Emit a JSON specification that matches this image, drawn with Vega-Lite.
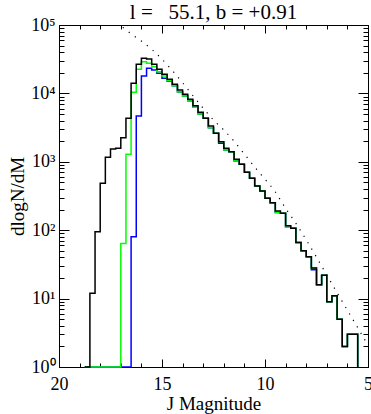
{
  "$schema": "https://vega.github.io/schema/vega-lite/v6.json",
  "width": 309,
  "height": 342,
  "autosize": {"type": "none"},
  "padding": {"left": 59, "top": 25, "right": 3, "bottom": 47},
  "background": "white",
  "title": {"text": "l = \u00a0\u00a055.1, b = +0.91", "font": "Liberation Serif", "fontSize": 21, "fontWeight": "normal", "color": "black", "offset": -7, "anchor": "middle", "frame": "group"},
  "config": {
    "view": {"stroke": "black", "strokeWidth": 1},
    "axis": {"domain": false, "grid": false, "tickColor": "black", "tickWidth": 1, "labelColor": "black", "titleColor": "black", "labelFont": "Liberation Serif", "titleFont": "Liberation Serif", "labelFontSize": 18, "titleFontSize": 19, "titleFontWeight": "normal", "labelOverlap": false, "labelFlush": false}
  },
  "datasets": {
    "hist": [
      {"m": 18.75, "black": 0, "green": 0, "blue": 0},
      {"m": 18.5, "black": 12, "green": 0, "blue": 0},
      {"m": 18.25, "black": 95, "green": 0, "blue": 0},
      {"m": 18.0, "black": 485, "green": 0, "blue": 0},
      {"m": 17.75, "black": 1165, "green": 0, "blue": 0},
      {"m": 17.5, "black": 1540, "green": 0, "blue": 0},
      {"m": 17.25, "black": 1575, "green": 0, "blue": 0},
      {"m": 17.0, "black": 2250, "green": 64, "blue": 0},
      {"m": 16.75, "black": 4330, "green": 1285, "blue": 0},
      {"m": 16.5, "black": 14060, "green": 10380, "blue": 80},
      {"m": 16.25, "black": 26600, "green": 22500, "blue": 4670},
      {"m": 16.0, "black": 32600, "green": 29100, "blue": 17960},
      {"m": 15.75, "black": 31850, "green": 27500, "blue": 23300},
      {"m": 15.5, "black": 26600, "green": 24600, "blue": 22000},
      {"m": 15.25, "black": 22500, "green": 20800, "blue": 19700},
      {"m": 15.0, "black": 19000, "green": 17960, "blue": 16630},
      {"m": 14.75, "black": 16070, "green": 15350, "blue": 15000},
      {"m": 14.5, "black": 13590, "green": 12970, "blue": 12970},
      {"m": 14.25, "black": 11220, "green": 10500, "blue": 10500},
      {"m": 14.0, "black": 9710, "green": 9150, "blue": 9150},
      {"m": 13.75, "black": 8200, "green": 7750, "blue": 7750},
      {"m": 13.5, "black": 6610, "green": 6250, "blue": 6250},
      {"m": 13.25, "black": 5290, "green": 5000, "blue": 5000},
      {"m": 13.0, "black": 4325, "green": 4325, "blue": 4325},
      {"m": 12.75, "black": 3335, "green": 3150, "blue": 3150},
      {"m": 12.5, "black": 2610, "green": 2610, "blue": 2610},
      {"m": 12.25, "black": 1970, "green": 1970, "blue": 1860},
      {"m": 12.0, "black": 1575, "green": 1490, "blue": 1490},
      {"m": 11.75, "black": 1406, "green": 1406, "blue": 1406},
      {"m": 11.5, "black": 1088, "green": 1030, "blue": 1030},
      {"m": 11.25, "black": 919, "green": 919, "blue": 919},
      {"m": 11.0, "black": 702, "green": 702, "blue": 702},
      {"m": 10.75, "black": 574, "green": 574, "blue": 574},
      {"m": 10.5, "black": 443, "green": 443, "blue": 443},
      {"m": 10.25, "black": 374, "green": 374, "blue": 374},
      {"m": 10.0, "black": 293, "green": 293, "blue": 293},
      {"m": 9.75, "black": 252, "green": 252, "blue": 252},
      {"m": 9.5, "black": 191, "green": 181, "blue": 181},
      {"m": 9.25, "black": 177, "green": 177, "blue": 177},
      {"m": 9.0, "black": 116, "green": 110, "blue": 110},
      {"m": 8.75, "black": 107, "green": 107, "blue": 107},
      {"m": 8.5, "black": 66, "green": 66, "blue": 66},
      {"m": 8.25, "black": 50, "green": 50, "blue": 50},
      {"m": 8.0, "black": 41, "green": 41, "blue": 41},
      {"m": 7.75, "black": 28, "green": 28, "blue": 26.5},
      {"m": 7.5, "black": 16, "green": 16, "blue": 16},
      {"m": 7.25, "black": 22, "green": 22, "blue": 22},
      {"m": 7.0, "black": 9, "green": 9, "blue": 9},
      {"m": 6.75, "black": 11, "green": 11, "blue": 11},
      {"m": 6.5, "black": 5, "green": 5, "blue": 5},
      {"m": 6.25, "black": 2, "green": 2, "blue": 2},
      {"m": 6.0, "black": 3, "green": 3, "blue": 3},
      {"m": 5.75, "black": 3, "green": 3, "blue": 3},
      {"m": 5.5, "black": 0, "green": 0, "blue": 0}
    ],
    "model": [
      {"m": 16.9, "v": 92300},
      {"m": 16.5, "v": 74100},
      {"m": 16.0, "v": 58200},
      {"m": 15.5, "v": 44200},
      {"m": 15.0, "v": 31600},
      {"m": 14.5, "v": 21600},
      {"m": 14.0, "v": 14300},
      {"m": 13.5, "v": 9270},
      {"m": 13.0, "v": 6080},
      {"m": 12.5, "v": 4080},
      {"m": 12.0, "v": 2920},
      {"m": 11.5, "v": 1995},
      {"m": 11.0, "v": 1297},
      {"m": 10.5, "v": 839},
      {"m": 10.0, "v": 557},
      {"m": 9.5, "v": 363},
      {"m": 9.0, "v": 209},
      {"m": 8.5, "v": 126},
      {"m": 8.0, "v": 72.4},
      {"m": 7.5, "v": 40.3},
      {"m": 7.0, "v": 22.1},
      {"m": 6.5, "v": 12.2},
      {"m": 6.0, "v": 6.76},
      {"m": 5.5, "v": 3.76},
      {"m": 5.1, "v": 2.34}
    ]
  },
  "layer": [
    {
      "data": {"name": "hist"},
      "mark": {"type": "line", "interpolate": "step-after", "color": "#0000ff", "strokeWidth": 1.5},
      "encoding": {
        "x": {"field": "m", "type": "quantitative", "scale": {"domain": [20, 5], "nice": false, "zero": false},
              "axis": {"orient": "bottom", "values": [20, 15, 10, 5], "tickSize": -8, "labelPadding": 16, "title": "J Magnitude", "titlePadding": 1}},
        "y": {"field": "blue", "type": "quantitative", "scale": {"type": "log", "domain": [1, 100000], "nice": false, "clamp": true},
              "axis": {"orient": "left", "values": [1, 10, 100, 1000, 10000, 100000], "tickSize": -10, "labelPadding": 14, "labelExpr": "'10' + ['⁰','¹','²','³','⁴','⁵'][round(log(datum.value)/LN10)]", "title": "dlogN/dM", "titlePadding": 3}},
        "order": {"field": "m", "sort": "descending"}
      }
    },
    {
      "data": {"name": "hist"},
      "mark": {"type": "line", "interpolate": "step-after", "color": "#00ff00", "strokeWidth": 1.5},
      "encoding": {
        "x": {"field": "m", "type": "quantitative", "scale": {"domain": [20, 5], "nice": false, "zero": false},
              "axis": {"orient": "bottom", "values": [5,6,7,8,9,10,11,12,13,14,15,16,17,18,19,20], "tickSize": -4, "labels": false, "title": null}},
        "y": {"field": "green", "type": "quantitative", "scale": {"type": "log", "domain": [1, 100000], "nice": false, "clamp": true},
              "axis": {"orient": "left", "values": [2,3,4,5,6,7,8,9,20,30,40,50,60,70,80,90,200,300,400,500,600,700,800,900,2000,3000,4000,5000,6000,7000,8000,9000,20000,30000,40000,50000,60000,70000,80000,90000], "tickSize": -5, "labels": false, "title": null}},
        "order": {"field": "m", "sort": "descending"}
      }
    },
    {
      "data": {"name": "hist"},
      "mark": {"type": "line", "interpolate": "step-after", "color": "#000000", "strokeWidth": 1.5},
      "encoding": {
        "x": {"field": "m", "type": "quantitative", "scale": {"domain": [20, 5], "nice": false, "zero": false},
              "axis": {"orient": "top", "values": [20, 15, 10, 5], "tickSize": -8, "labels": false, "title": null}},
        "y": {"field": "black", "type": "quantitative", "scale": {"type": "log", "domain": [1, 100000], "nice": false, "clamp": true},
              "axis": {"orient": "right", "values": [1, 10, 100, 1000, 10000, 100000], "tickSize": -10, "labels": false, "title": null}},
        "order": {"field": "m", "sort": "descending"}
      }
    },
    {
      "data": {"name": "model"},
      "mark": {"type": "line", "color": "#000000", "strokeWidth": 1.2, "strokeDash": [1.2, 6.3], "interpolate": "monotone"},
      "encoding": {
        "x": {"field": "m", "type": "quantitative", "scale": {"domain": [20, 5], "nice": false, "zero": false},
              "axis": {"orient": "top", "values": [5,6,7,8,9,10,11,12,13,14,15,16,17,18,19,20], "tickSize": -4, "labels": false, "title": null}},
        "y": {"field": "v", "type": "quantitative", "scale": {"type": "log", "domain": [1, 100000], "nice": false, "clamp": true},
              "axis": {"orient": "right", "values": [2,3,4,5,6,7,8,9,20,30,40,50,60,70,80,90,200,300,400,500,600,700,800,900,2000,3000,4000,5000,6000,7000,8000,9000,20000,30000,40000,50000,60000,70000,80000,90000], "tickSize": -5, "labels": false, "title": null}},
        "order": {"field": "m", "sort": "descending"}
      }
    }
  ],
  "resolve": {"axis": {"x": "independent", "y": "independent"}}
}
